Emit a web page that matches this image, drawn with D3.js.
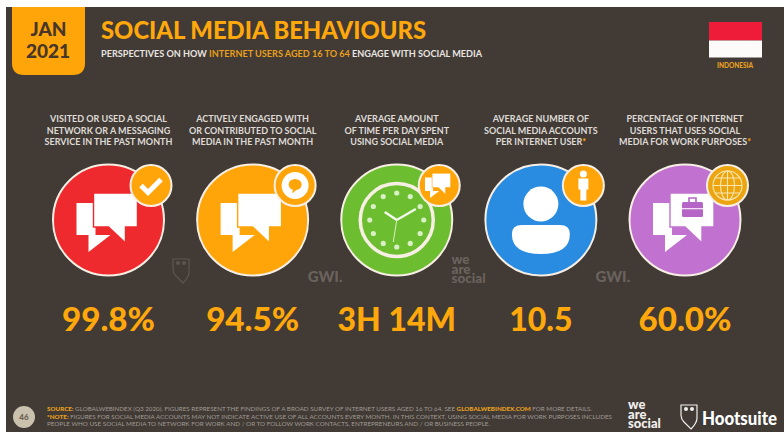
<!DOCTYPE html>
<html>
<head>
<meta charset="utf-8">
<script src="https://cdn.jsdelivr.net/npm/d3@7/dist/d3.min.js"></script>
<style>
  html, body { margin: 0; padding: 0; background: #fff; }
  svg { display: block; font-family: Lato, "Open Sans", sans-serif; }
</style>
</head>
<body>
<svg id="chart" width="784" height="432"></svg>
<script>
// Slide content
const metricIds = ["visited", "engaged", "time", "accounts", "work"];
const captions = [
  [["VISITED OR USED A SOCIAL"], ["NETWORK OR A MESSAGING"], ["SERVICE IN THE PAST MONTH"]],
  [["ACTIVELY ENGAGED WITH"], ["OR CONTRIBUTED TO SOCIAL"], ["MEDIA IN THE PAST MONTH"]],
  [["AVERAGE AMOUNT"], ["OF TIME PER DAY SPENT"], ["USING SOCIAL MEDIA"]],
  [["AVERAGE NUMBER OF"], ["SOCIAL MEDIA ACCOUNTS"], ["PER INTERNET USER", "*"]],
  [["PERCENTAGE OF INTERNET"], ["USERS THAT USES SOCIAL"], ["MEDIA FOR WORK PURPOSES", "*"]]
];
const valueLabels = ["99.8%", "94.5%", "3H 14M", "10.5", "60.0%"];
const discColours = ["#ee2a2e", "#ffa509", "#6cbd2f", "#2a8ce0", "#c172d0"];
const subtitleParts = [
  ["PERSPECTIVES ON HOW ", "#e9e5e1"],
  ["INTERNET USERS AGED 16 TO 64", "#e89f1c"],
  [" ENGAGE WITH SOCIAL MEDIA", "#e9e5e1"]
];
const footerLines = [
  [["SOURCE:", true], [" GLOBALWEBINDEX (Q3 2020). FIGURES REPRESENT THE FINDINGS OF A BROAD SURVEY OF INTERNET USERS AGED 16 TO 64. SEE ", false], ["GLOBALWEBINDEX.COM", true], [" FOR MORE DETAILS.", false]],
  [["*NOTE:", true], [" FIGURES FOR SOCIAL MEDIA ACCOUNTS MAY NOT INDICATE ACTIVE USE OF ALL ACCOUNTS EVERY MONTH. IN THIS CONTEXT, USING SOCIAL MEDIA FOR WORK PURPOSES INCLUDES", false]],
  [["PEOPLE WHO USE SOCIAL MEDIA TO NETWORK FOR WORK AND / OR TO FOLLOW WORK CONTACTS, ENTREPRENEURS AND / OR BUSINESS PEOPLE.", false]]
];
const footerWidths = [545, 565, 443];
const weAreSocial = ["we", "are", "social"];

const AMBER = "#ffa509";
const CREAM = "#f7efe4";
const BG = "#413a35";

const svg = d3.select("#chart");

// Slide background sits inside a thin white margin
svg.append("rect").attr("x", 6).attr("y", 7).attr("width", 778).attr("height", 425).attr("fill", BG);

// Date tab
svg.append("path")
  .attr("d", "M12,7H85V63Q85,75 73,75H24Q12,75 12,63Z")
  .attr("fill", AMBER);
const tab = svg.append("g").attr("text-anchor", "middle").attr("fill", "#47362a").attr("font-weight", 900).attr("font-size", 19);
tab.append("text").attr("x", 48.5).attr("y", 36).text("JAN");
tab.append("text").attr("x", 48).attr("y", 58).text("2021");

// Headline block
svg.append("text").attr("x", 101).attr("y", 39)
  .attr("font-size", 24).attr("font-weight", 900).attr("fill", "#ffa80c")
  .attr("textLength", 325).attr("lengthAdjust", "spacingAndGlyphs")
  .text("SOCIAL MEDIA BEHAVIOURS");
svg.append("text").attr("x", 101).attr("y", 57)
  .attr("font-size", 8.5).attr("font-weight", 700)
  .attr("textLength", 381).attr("lengthAdjust", "spacingAndGlyphs")
  .selectAll("tspan").data(subtitleParts).join("tspan")
  .attr("fill", d => d[1]).text(d => d[0]);

// Country flag
const flag = svg.append("g");
flag.append("rect").attr("x", 709).attr("y", 22).attr("width", 53).attr("height", 18.5).attr("fill", "#ee1c39");
flag.append("rect").attr("x", 709).attr("y", 40.5).attr("width", 53).attr("height", 17).attr("fill", "#fdfbf9");
svg.append("text").attr("x", 735).attr("y", 68).attr("text-anchor", "middle")
  .attr("font-size", 6.5).attr("font-weight", 900).attr("fill", "#e9a021").text("INDONESIA");

// One column per metric
const x = d3.scalePoint().domain(metricIds).range([108.5, 685]);
const CY = 220, R = 55.5;

const columns = svg.selectAll("g.metric").data(metricIds).join("g")
  .attr("class", "metric")
  .attr("transform", d => `translate(${x(d)},0)`);

// Captions above each disc
columns.each(function (id, i) {
  const t = d3.select(this).append("g").attr("text-anchor", "middle")
    .attr("font-size", 9).attr("font-weight", 700).attr("fill", "#dfdad5");
  captions[i].forEach((line, k) => {
    const txt = t.append("text").attr("y", 122 + k * 11.5);
    txt.append("tspan").text(line[0]);
    if (line[1]) txt.append("tspan").attr("fill", AMBER).text(line[1]);
  });
});

// Discs
columns.append("circle").attr("cy", CY).attr("r", R)
  .attr("fill", (d, i) => discColours[i])
  .attr("stroke", CREAM).attr("stroke-width", 2);

// Values under the discs; percentages run a little wider than the other figures
const valueText = columns.append("text").attr("y", 331).attr("text-anchor", "middle")
  .attr("font-size", 32).attr("font-weight", 900).attr("fill", "#ffa80c")
  .text((d, i) => valueLabels[i]);
valueText.filter((d, i) => valueLabels[i].endsWith("%"))
  .attr("textLength", 93).attr("lengthAdjust", "spacingAndGlyphs");

// Icon glyphs, drawn in a local frame centred on the disc
const bubbleSmall = "M-32,-17H-13V15H2L-20,32V15H-32Z";
const bubbleBig = "M-15,-27H29V7H17V23L0,7H-15Z";

function chatPair(g, outline) {
  g.append("path").attr("d", bubbleSmall).attr("fill", "#fff");
  g.append("path").attr("d", bubbleBig).attr("fill", "#fff")
    .attr("stroke", outline).attr("stroke-width", 1.4);
}

function badge(g, fill) {
  const b = g.append("g").attr("transform", `translate(42.5,${CY - 34.5})`);
  b.append("circle").attr("r", 20.5).attr("fill", fill)
    .attr("stroke", CREAM).attr("stroke-width", 2);
  return b;
}

const icon = id => columns.filter(d => d === id).append("g");

// Visited: chat bubbles with tick badge
{
  const g = icon("visited");
  chatPair(g.append("g").attr("transform", `translate(0,${CY})`), discColours[0]);
  badge(g, AMBER).append("path").attr("d", "M-10,0L-3,7L10,-6")
    .attr("fill", "none").attr("stroke", "#fff").attr("stroke-width", 5);
}

// Engaged: chat bubbles with ring badge
{
  const g = icon("engaged");
  chatPair(g.append("g").attr("transform", `translate(0,${CY})`), discColours[1]);
  const b = badge(g, AMBER);
  b.append("circle").attr("r", 13.5).attr("fill", "#fff");
  b.append("ellipse").attr("cy", -1).attr("rx", 6.5).attr("ry", 5.5).attr("fill", AMBER);
  b.append("path").attr("d", "M-2,3L-3,8L3,3Z").attr("fill", AMBER);
}

// Time: clock face with small chat badge
{
  const g = icon("time");
  const face = g.append("g").attr("transform", `translate(0,${CY})`);
  face.append("circle").attr("r", 36.5).attr("fill", "none").attr("stroke", CREAM).attr("stroke-width", 3.5);
  const hours = d3.range(12);
  const angle = d3.scaleLinear().domain([0, 12]).range([0, 2 * Math.PI]);
  face.selectAll("circle.tick").data(hours).join("circle").attr("class", "tick")
    .attr("cx", d => 27 * Math.sin(angle(d)))
    .attr("cy", d => -27 * Math.cos(angle(d)))
    .attr("r", 2.6).attr("fill", "#d8f0c4");
  face.append("path").attr("d", "M0,0L-12,-8").attr("stroke", "#f4faee").attr("stroke-width", 2.4).attr("fill", "none");
  face.append("path").attr("d", "M0,0L19,-11").attr("stroke", "#f4faee").attr("stroke-width", 2.2).attr("fill", "none");
  face.append("path").attr("d", "M0,0L-3.5,22").attr("stroke", "#d8f0c4").attr("stroke-width", 1).attr("fill", "none");
  const b = badge(g, AMBER);
  b.append("g").attr("transform", "scale(0.42) translate(-2,-2)").call(sel => chatPair(sel, AMBER));
}

// Accounts: person bust with standing figure badge
{
  const g = icon("accounts");
  const p = g.append("g").attr("transform", `translate(0,${CY})`);
  p.append("circle").attr("cy", -16).attr("r", 17.5).attr("fill", "#fff");
  p.append("path").attr("d", "M-19,5H19Q29,5 29,14Q29,34 0,34Q-29,34 -29,14Q-29,5 -19,5Z").attr("fill", "#fff");
  const b = badge(g, AMBER);
  b.append("circle").attr("cy", -11.5).attr("r", 3.5).attr("fill", "#fff");
  b.append("path").attr("d", "M-5,-7H5V4H3V15H-3V4H-5Z").attr("fill", "#fff");
}

// Work: chat bubbles holding a briefcase, with globe badge
{
  const g = icon("work");
  const c = g.append("g").attr("transform", `translate(0,${CY})`);
  chatPair(c, discColours[4]);
  c.append("path").attr("d", "M4,-18V-22H11V-18").attr("fill", "none").attr("stroke", "#b565c6").attr("stroke-width", 1.6);
  c.append("rect").attr("x", -3).attr("y", -18).attr("width", 21).attr("height", 15).attr("rx", 1.5).attr("fill", "#b565c6");
  c.append("rect").attr("x", -3).attr("y", -12).attr("width", 21).attr("height", 1.3).attr("fill", "#f3dcf6");
  const b = badge(g, "#eda50f");
  const globe = b.append("g").attr("fill", "none").attr("stroke", "#fbe6b0").attr("stroke-width", 1.1);
  globe.append("circle").attr("r", 14.5);
  globe.append("ellipse").attr("rx", 7).attr("ry", 14.5);
  globe.append("path").attr("d", "M0,-14.5V14.5M-14.5,0H14.5M-12.5,-7.5H12.5M-12.5,7.5H12.5");
}

// Source marks beside the discs
const WM = "#6a635d";
[x("engaged") + 72.5, x("accounts") + 72].forEach(px => {
  svg.append("text").attr("x", px).attr("y", 282).attr("text-anchor", "middle")
    .attr("font-size", 15).attr("font-weight", 900).attr("fill", WM).text("GWI.");
});

function owl(g, colour) {
  g.append("path").attr("d", "M0,0H16V13Q16,18 10,24L3,17Q0,14 0,10Z")
    .attr("fill", "none").attr("stroke", colour).attr("stroke-width", 1.2);
  g.append("circle").attr("cx", 5).attr("cy", 4).attr("r", 2).attr("fill", colour);
  g.append("circle").attr("cx", 11).attr("cy", 4).attr("r", 2).attr("fill", colour);
}
owl(svg.append("g").attr("transform", "translate(173,259)"), "#5d5650");

// Three-line wordmark set as one text block
function stackedWordmark(x0, y0, leading, size, colour) {
  svg.append("text").attr("y", y0)
    .attr("font-size", size).attr("font-weight", 900).attr("fill", colour)
    .selectAll("tspan").data(weAreSocial).join("tspan")
    .attr("x", x0).attr("dy", (d, i) => i ? leading : 0)
    .text(d => d);
}
stackedWordmark(451.5, 264, 9.5, 13.5, WM);

// Footer
svg.append("circle").attr("cx", 24).attr("cy", 417).attr("r", 11).attr("fill", "#c9c0ae");
svg.append("text").attr("x", 24).attr("y", 420).attr("text-anchor", "middle")
  .attr("font-size", 8).attr("font-weight", 900).attr("fill", "#6a5f50").text("46");

const note = svg.append("text").attr("font-size", 5.4).attr("fill", "#a09a94");
footerLines.forEach((parts, i) => {
  note.append("tspan").attr("x", 47).attr("y", 411 + i * 7.6)
    .attr("textLength", footerWidths[i]).attr("lengthAdjust", "spacingAndGlyphs")
    .selectAll("tspan").data(parts).join("tspan")
    .attr("fill", d => d[1] ? "#e8a020" : null)
    .attr("font-weight", d => d[1] ? 900 : null)
    .text(d => d[0]);
});

stackedWordmark(628, 409, 9.5, 13, "#f2efec");
owl(svg.append("g").attr("transform", "translate(681,405)"), "#f2efec");
svg.append("text").attr("x", 702).attr("y", 425).attr("font-size", 18).attr("font-weight", 900)
  .attr("fill", "#fff").attr("textLength", 75).attr("lengthAdjust", "spacingAndGlyphs").text("Hootsuite");
</script>
</body>
</html>
